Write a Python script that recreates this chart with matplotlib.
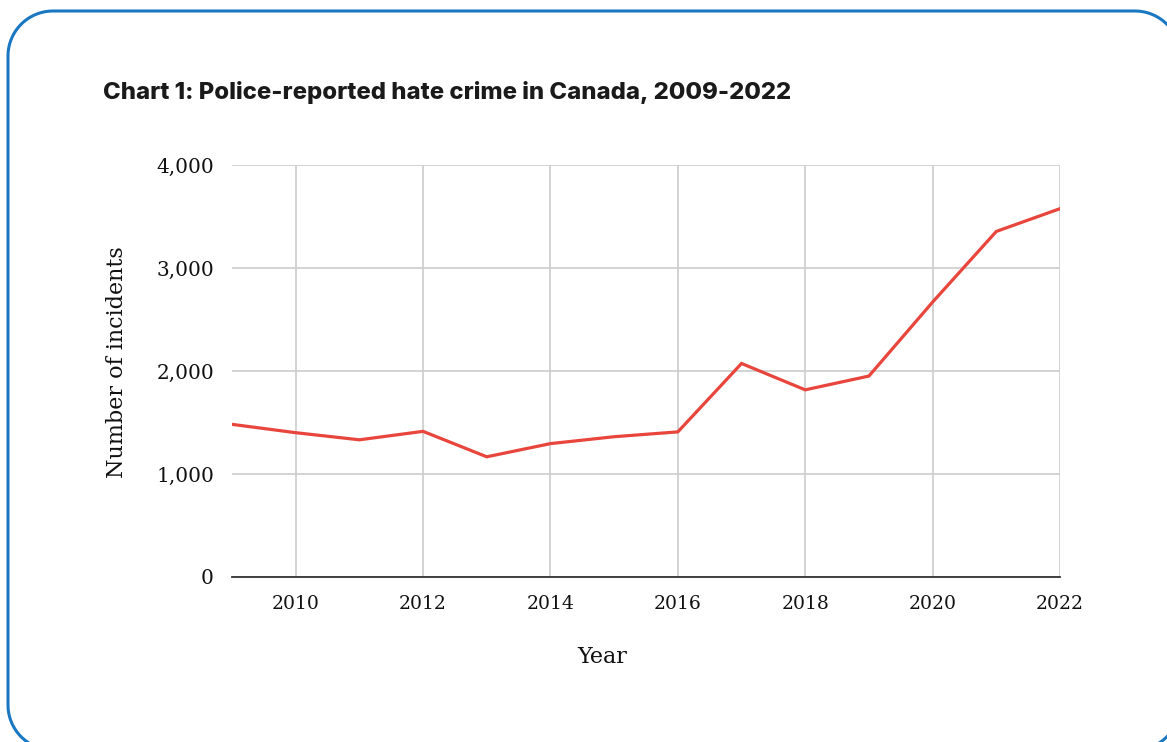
import numpy as np
import matplotlib
matplotlib.use("Agg")
import matplotlib.pyplot as plt
from matplotlib.patches import PathPatch
from matplotlib.path import Path
from matplotlib.transforms import IdentityTransform

years = [2009, 2010, 2011, 2012, 2013, 2014, 2015, 2016, 2017, 2018, 2019, 2020, 2021, 2022]
incidents = [1482, 1401, 1332, 1414, 1167, 1295, 1362, 1409, 2073, 1817, 1951, 2669, 3355, 3576]
x_ticks = [2010, 2012, 2014, 2016, 2018, 2020, 2022]
y_ticks = [0, 1000, 2000, 3000, 4000]

title = "Chart 1: Police-reported hate crime in Canada, 2009-2022"
x_label = "Year"
y_label = "Number of incidents"

W, H = 1167, 742
fig = plt.figure(figsize=(W / 100, H / 100), dpi=100)
fig.patch.set_facecolor("white")


def rounded_rect(x0, y0, x1, y1, r, n=24):
    """Closed rounded-rectangle outline in pixel units (y up)."""
    pts = []
    corners = [(x1 - r, y1 - r, 0), (x0 + r, y1 - r, 90),
               (x0 + r, y0 + r, 180), (x1 - r, y0 + r, 270)]
    for cx, cy, a0 in corners:
        t = np.radians(np.linspace(a0, a0 + 90, n))
        pts.extend(zip(cx + r * np.cos(t), cy + r * np.sin(t)))
    pts.append(pts[0])
    return Path(pts)


# card border, partly running off the canvas
card = PathPatch(rounded_rect(8, H - 750, 1180, H - 11, 45),
                 transform=IdentityTransform(), facecolor="none",
                 edgecolor="#1a78c2", linewidth=2.2)
fig.add_artist(card)

left, right, top, bottom = 232, 1060, 165, 577
ax = fig.add_axes([left / W, 1 - bottom / H, (right - left) / W, (bottom - top) / H])

serif = ["DejaVu Serif"]

ax.plot(years, incidents, color="#e8453c", linewidth=2.3, solid_joinstyle="miter", zorder=3)
ax.set_xlim(2009, 2022)
ax.set_ylim(0, 4000)
ax.set_xticks(x_ticks)
ax.set_yticks(y_ticks)
ax.set_xticklabels([str(t) for t in x_ticks], fontfamily=serif, fontsize=13.5)
ax.set_yticklabels([f"{t:,}" for t in y_ticks], fontfamily=serif, fontsize=14.5)
ax.tick_params(axis="both", length=0, colors="#111111")
ax.tick_params(axis="x", pad=13)
ax.tick_params(axis="y", pad=13)

ax.grid(True, color="#cccccc", linewidth=1.2, zorder=0)
ax.set_axisbelow(True)
for s in ["top", "right", "left"]:
    ax.spines[s].set_visible(False)
ax.spines["bottom"].set_color("#333333")
ax.spines["bottom"].set_linewidth(1.3)

fig.text(602 / W, 1 - 657 / H, x_label, fontfamily=serif, fontsize=16, color="#111111",
         ha="center", va="center")
fig.text(117 / W, 1 - 362 / H, y_label, fontfamily=serif, fontsize=16, color="#111111",
         ha="center", va="center", rotation=90)

fig.text(103 / W, 1 - 93 / H, title, fontfamily=["Inter", "DejaVu Sans"], fontweight="heavy",
         fontsize=17.2, color="#1a1a1a", va="center", ha="left")

fig.savefig("out.png", dpi=100)
